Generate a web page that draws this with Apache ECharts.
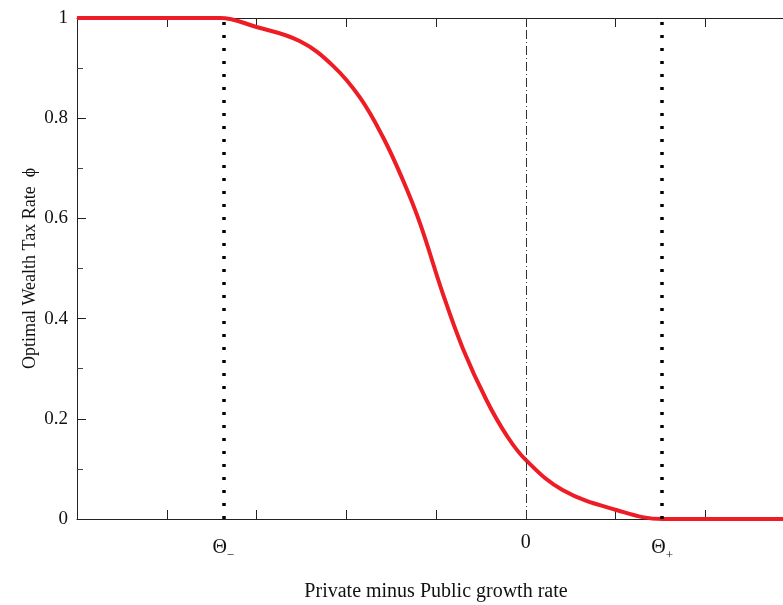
<!DOCTYPE html>
<html>
<head>
<meta charset="utf-8">
<script src="https://cdn.jsdelivr.net/npm/echarts@6/dist/echarts.min.js"></script>
<style>
  html, body { margin: 0; padding: 0; background: #fff; overflow: hidden; }
  #main { width: 830px; height: 605px; }
</style>
</head>
<body>
<div id="main"></div>
<script>
// curve (x in tick units, 0 at the dash-dot line)
var curveX = [-5, -3.41, -3.0, -2.52, -2.15, -1.85, -1.59, -1.37, -1.18, -0.924, -0.70, -0.434, -0.21, 0.0, 0.41, 1.01, 1.53, 3];
var curveY = [1, 1, 0.982, 0.954, 0.905, 0.842, 0.762, 0.677, 0.591, 0.45, 0.34, 0.236, 0.166, 0.118, 0.058, 0.018, 0, 0];
var thetaMinus = -3.37;
var thetaPlus = 1.52;
var yTicks = [0, 0.2, 0.4, 0.6, 0.8, 1];

var chart = echarts.init(document.getElementById('main'));
var serif = '"Liberation Serif", "DejaVu Serif", serif';

var data = curveX.map(function (x, i) { return [x, curveY[i]]; });

var option = {
  animation: false,
  grid: { left: 77, right: 35, top: 18, bottom: 86, outerBoundsMode: 'none' },
  xAxis: [{
    type: 'value',
    min: -5, max: 3, interval: 1,
    name: 'Private minus Public growth rate',
    nameLocation: 'middle',
    nameGap: 63,
    nameTextStyle: { fontFamily: serif, fontSize: 20, color: '#111' },
    axisLine: { onZero: false, lineStyle: { color: '#222', width: 1 } },
    axisTick: { inside: true, length: 9, lineStyle: { color: '#222' } },
    splitLine: { show: false },
    axisLabel: {
      customValues: [thetaMinus, 0, thetaPlus],
      margin: 14,
      fontFamily: serif, fontSize: 20, color: '#111',
      formatter: function (v) {
        if (v === thetaMinus) return '{t|Θ}{s|−}';
        if (v === thetaPlus) return '{t|Θ}{s|+}';
        return '0';
      },
      rich: {
        t: { fontFamily: serif, fontSize: 20, color: '#111' },
        s: { fontFamily: serif, fontSize: 13, color: '#111', padding: [16, 0, 0, 0] }
      }
    }
  }, {
    type: 'value', position: 'top',
    min: -5, max: 3, interval: 1,
    axisLine: { onZero: false, lineStyle: { color: '#222', width: 1 } },
    axisTick: { inside: true, length: 9, lineStyle: { color: '#222' } },
    axisLabel: { show: false },
    splitLine: { show: false }
  }],
  yAxis: {
    type: 'value',
    min: 0, max: 1, interval: 0.2,
    name: 'Optimal Wealth Tax Rate  ϕ',
    nameLocation: 'middle',
    nameGap: 38,
    nameMoveOverlap: false,
    nameTextStyle: { fontFamily: serif, fontSize: 18, color: '#111' },
    axisLine: { onZero: false, lineStyle: { color: '#222', width: 1 } },
    axisTick: { inside: true, length: 9, lineStyle: { color: '#222' } },
    minorTick: { show: true, splitNumber: 2, length: 6, lineStyle: { color: '#444' } },
    splitLine: { show: false },
    axisLabel: {
      margin: 9, fontFamily: serif, fontSize: 19, color: '#111',
      formatter: function (v) { return yTicks.indexOf(+v.toFixed(1)) >= 0 ? String(+v.toFixed(1)) : ''; }
    }
  },
  series: [{
    type: 'line',
    data: data,
    showSymbol: false,
    smooth: 0.4,
    lineStyle: { color: '#ee1c24', width: 4 },
    z: 3,
    markLine: {
      silent: true,
      symbol: 'none',
      label: { show: false },
      data: [
        { xAxis: thetaMinus, lineStyle: { color: '#000', width: 3.5, type: [3, 10] } },
        { xAxis: thetaPlus, lineStyle: { color: '#000', width: 3.5, type: [3, 10] } },
        { xAxis: 0, lineStyle: { color: '#333', width: 1, type: [9, 3, 1, 3] } }
      ]
    }
  }]
};

chart.setOption(option);
</script>
</body>
</html>
